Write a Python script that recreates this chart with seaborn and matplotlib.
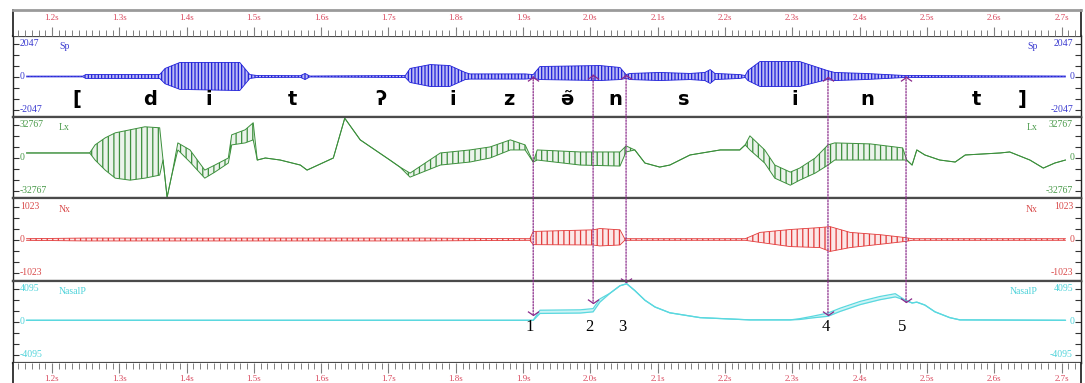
import matplotlib
matplotlib.use("Agg")
import matplotlib.pyplot as plt
from matplotlib.patches import ConnectionPatch
from matplotlib.path import Path
from matplotlib.colors import to_rgba
import seaborn as sns

# ---------------- data ----------------
ruler_ticks = [1.2, 1.3, 1.4, 1.5, 1.6, 1.7, 1.8, 1.9, 2.0, 2.1, 2.2, 2.3, 2.4, 2.5, 2.6, 2.7]
ruler_labels = ["1.2s", "1.3s", "1.4s", "1.5s", "1.6s", "1.7s", "1.8s", "1.9s",
                "2.0s", "2.1s", "2.2s", "2.3s", "2.4s", "2.5s", "2.6s", "2.7s"]

channel_names = ["Sp", "Lx", "Nx", "NasalP"]
channel_max = [2047, 32767, 1023, 4095]

# Speech envelope (time s, upper, lower)
sp_t = [1.162, 1.246, 1.250, 1.360, 1.368, 1.390, 1.479, 1.494, 1.505, 1.569, 1.576, 1.583,
        1.725, 1.732, 1.762, 1.791, 1.814, 1.821, 1.903, 1.915, 1.925, 2.014, 2.044, 2.053,
        2.059, 2.103, 2.148, 2.170, 2.178, 2.185, 2.222, 2.230, 2.234, 2.252, 2.311, 2.352,
        2.363, 2.408, 2.468, 2.706]
sp_hi = [25, 25, 120, 120, 500, 870, 870, 120, 60, 50, 190, 30,
         60, 500, 740, 680, 250, 160, 160, 120, 620, 680, 560, 120,
         190, 250, 190, 250, 430, 190, 120, 60, 370, 930, 930, 370,
         250, 190, 60, 30]
sp_lo = [-25, -25, -120, -120, -450, -800, -870, -120, -60, -50, -190, -30,
         -60, -370, -620, -620, -190, -160, -160, -120, -190, -250, -190, -120,
         -190, -250, -190, -250, -430, -190, -120, -60, -250, -620, -620, -190,
         -250, -190, -60, -30]

# Laryngograph (Lx)
lx_t = [1.162, 1.256, 1.264, 1.279, 1.294, 1.316, 1.338, 1.360, 1.365, 1.371, 1.378, 1.387,
        1.405, 1.427, 1.442, 1.462, 1.467, 1.487, 1.499, 1.505, 1.517, 1.539, 1.569, 1.579,
        1.618, 1.635, 1.658, 1.680, 1.702, 1.717, 1.732, 1.777, 1.821, 1.851, 1.881, 1.903,
        1.915, 1.921, 1.985, 2.044, 2.053, 2.066, 2.081, 2.103, 2.118, 2.148, 2.193, 2.222,
        2.230, 2.237, 2.259, 2.274, 2.297, 2.311, 2.334, 2.353, 2.363, 2.416, 2.464, 2.470,
        2.478, 2.485, 2.497, 2.519, 2.542, 2.557, 2.609, 2.623, 2.653, 2.673, 2.690, 2.706]
lx_hi = [4500, 4500, 12500, 19500, 24500, 27500, 30500, 29500, -2500, -39500, -17500, 14500,
         7500, -12500, -7500, -500, 22500, 27500, 34500, -2500, -500, -2500, -7500, -12500,
         -500, 39000, 17500, 7500, -2500, -9500, -15500, 4500, 7500, 10500, 17500, 12500,
         -4500, 7500, 5500, 5500, 11500, 7500, -5500, -9500, -7500, 2500, 7500, 7500,
         12500, 21500, 7500, -7500, -14500, -10500, -500, 12500, 14500, 13500, 9500, -2500,
         -7500, 7500, 2500, -2500, -4500, 2500, 4500, 5500, -2500, -10500, -5500, -2500]
lx_lo = [4500, 4500, -2500, -12500, -20500, -22500, -20500, -17500, -2500, -39500, -17500, 7500,
         -4500, -20500, -14500, -5500, 12500, 14500, 17500, -2500, -500, -2500, -7500, -12500,
         -500, 39000, 17500, 7500, -2500, -9500, -19500, -7500, -4500, -500, 7500, 7500,
         -4500, -2500, -7500, -8500, 5500, 7500, -5500, -9500, -7500, 2500, 7500, 7500,
         12500, 7500, -5500, -20500, -27500, -22500, -15500, -7500, -2500, -2500, -2500, -2500,
         -7500, 7500, 2500, -2500, -4500, 2500, 4500, 5500, -2500, -10500, -5500, -2500]

# Nasal accelerometer (Nx)
nx_t = [1.162, 1.250, 1.750, 1.910, 1.915, 2.004, 2.014, 2.044, 2.051, 2.230, 2.252, 2.297,
        2.341, 2.356, 2.386, 2.430, 2.468, 2.478, 2.706]
nx_hi = [25, 45, 45, 25, 250, 300, 340, 300, 25, 25, 220, 310,
         370, 400, 220, 150, 60, 25, 25]
nx_lo = [-25, -45, -45, -25, -160, -170, -200, -170, -25, -25, -90, -220,
         -250, -370, -250, -150, -60, -25, -25]

# Nasal airflow pressure (NasalP)
np_t = [1.162, 1.915, 1.925, 1.985, 2.004, 2.014, 2.029, 2.044, 2.054, 2.066, 2.081, 2.096,
        2.118, 2.163, 2.237, 2.297, 2.311, 2.330, 2.353, 2.371, 2.401, 2.430, 2.453, 2.468,
        2.478, 2.485, 2.497, 2.512, 2.534, 2.549, 2.706]
np_hi = [150, 150, 1400, 1450, 1600, 2800, 3500, 4440, 4680, 3840, 2640, 1800,
         1080, 480, 200, 200, 350, 650, 1050, 1650, 2500, 3100, 3450, 2640,
         2300, 2400, 2040, 1200, 480, 200, 150]
np_lo = [150, 150, 1000, 1050, 1200, 2400, 3500, 4440, 4680, 3840, 2640, 1800,
         1080, 480, 200, 200, 250, 450, 650, 1250, 2100, 2700, 3050, 2640,
         2300, 2400, 2040, 1200, 480, 200, 150]

# phonetic transcription
phones = ["[", "d", "i", "t", "ʔ", "i", "z", "ə̃", "n", "s", "i", "n", "t", "]"]
phone_t = [1.237, 1.346, 1.433, 1.558, 1.689, 1.796, 1.879, 1.965, 2.037, 2.138,
           2.304, 2.412, 2.574, 2.641]

# numbered arrows
arrow_labels = ["1", "2", "3", "4", "5"]
arrow_t = [1.915, 2.004, 2.053, 2.353, 2.469]
arrow_top = [0, 100, 100, -60, 0]            # Sp value at the upper head
arrow_bottom = [840, 2280, 4850, 840, 2400]  # NasalP value at the lower head
arrow_label_t = [1.910, 1.998, 2.048, 2.350, 2.463]

# ---------------- styling / layout ----------------
W, H = 1085, 383
PX0, PX1 = 13, 1081
T0 = 1.2 + (PX0 - 52) / 673.0
T1 = 1.2 + (PX1 - 52) / 673.0

sns.set_theme(style="white")
plt.rcParams['font.family'] = ['Liberation Serif', 'DejaVu Serif']
plt.rcParams['hatch.linewidth'] = 0.9

fig = plt.figure(figsize=(W / 100, H / 100), dpi=100)
fig.patch.set_facecolor("white")


def rect(x0, y0, x1, y1):
    return [x0 / W, 1 - y1 / H, (x1 - x0) / W, (y1 - y0) / H]


def xf(px):
    return (px - PX0) / (PX1 - PX0)


ruler_col = "#d9475c"
line_cols = ["#1f1fd8", "#3c8f3c", "#e23a3a", "#5ad8df"]
label_cols = ["#3b3bd0", "#4a9a4a", "#d94a4a", "#4fd3da"]
hatches = ["|||||", "|||", "|||", None]
face_alpha = [0.3, 0.1, 0.12, 0.3]
edge_lw = [0.6, 0.7, 0.6, 0.9]
panels = [(36, 117, 76.5), (117, 198, 157.5), (198, 281, 239.5), (281, 363, 321.5)]
series = [(sp_t, sp_hi, sp_lo), (lx_t, lx_hi, lx_lo), (nx_t, nx_hi, nx_lo), (np_t, np_hi, np_lo)]

axes = []
for i, (name, mx) in enumerate(zip(channel_names, channel_max)):
    top, bot, zero = panels[i]
    ax = fig.add_axes(rect(PX0, top, PX1, bot))
    ax.set_xlim(T0, T1)
    scale = mx / 33.0
    ax.set_ylim(-(bot - zero) * scale, (zero - top) * scale)
    t, hi, lo = series[i]
    col = line_cols[i]
    ax.fill_between(t, lo, hi, facecolor=to_rgba(col, face_alpha[i]),
                    edgecolor=col, hatch=hatches[i], linewidth=0)
    sns.lineplot(x=t, y=hi, ax=ax, color=col, linewidth=edge_lw[i], estimator=None, sort=False)
    sns.lineplot(x=t, y=lo, ax=ax, color=col, linewidth=edge_lw[i], estimator=None, sort=False)
    ax.set_xticks([])
    ax.set_yticks([-mx, -2 * mx / 3, -mx / 3, 0, mx / 3, 2 * mx / 3, mx])
    ax.set_yticklabels([])
    ax.tick_params(axis="y", which="both", direction="in", length=4, width=0.8,
                   color="#333333", left=True, right=True)
    ax.set_xlabel("")
    ax.set_ylabel("")
    for s in ("left", "right"):
        ax.spines[s].set_color("#222222")
        ax.spines[s].set_linewidth(1.0)
    for s in ("top", "bottom"):
        ax.spines[s].set_color("#4a4a4a")
        ax.spines[s].set_linewidth(1.6)
    lc = label_cols[i]
    tr = ax.get_yaxis_transform()
    fs = 7
    ax.text(xf(20), mx, str(mx), transform=tr, ha="left", va="center", color=lc, fontsize=fs)
    ax.text(xf(20), 0, "0", transform=tr, ha="left", va="center", color=lc, fontsize=fs)
    ax.text(xf(20), -mx, "-" + str(mx), transform=tr, ha="left", va="center", color=lc, fontsize=fs)
    ax.text(xf(1073), mx, str(mx), transform=tr, ha="right", va="center", color=lc, fontsize=fs)
    ax.text(xf(1075), 0, "0", transform=tr, ha="right", va="center", color=lc, fontsize=fs)
    ax.text(xf(1073), -mx, "-" + str(mx), transform=tr, ha="right", va="center", color=lc, fontsize=fs)
    ax.text(xf(59), mx * 0.92, name, transform=tr, ha="left", va="center", color=lc, fontsize=fs)
    ax.text(xf(1038), mx * 0.92, name, transform=tr, ha="right", va="center", color=lc, fontsize=fs)
    axes.append(ax)

ax_sp, ax_lx, ax_nx, ax_np = axes

# phonetic labels
for ph, t in zip(phones, phone_t):
    ax_sp.text(t, -1450, ph, ha="center", va="center", fontsize=14, fontweight="bold",
               color="black", family=["DejaVu Sans"])

# arrows
purple = "#8a2a8a"
up = Path([(-1, -0.7), (0, 0), (1, -0.7)], [Path.MOVETO, Path.LINETO, Path.LINETO])
down = Path([(-1, 0.7), (0, 0), (1, 0.7)], [Path.MOVETO, Path.LINETO, Path.LINETO])
for lab, t, ytop, ybot, tl in zip(arrow_labels, arrow_t, arrow_top, arrow_bottom, arrow_label_t):
    cp = ConnectionPatch(xyA=(t, ytop), coordsA=ax_sp.transData,
                         xyB=(t, ybot), coordsB=ax_np.transData,
                         color=purple, linestyle=(0, (1.2, 1.2)), linewidth=0.9)
    fig.add_artist(cp)
    ax_sp.plot([t], [ytop], marker=up, markersize=8, color=purple, fillstyle="none",
               markeredgewidth=0.9, clip_on=False)
    ax_np.plot([t], [ybot], marker=down, markersize=8, color=purple, fillstyle="none",
               markeredgewidth=0.9, clip_on=False)
    ax_np.text(tl, -700, lab, ha="center", va="center", fontsize=12, color="black")

# rulers
minor = [round(1.15 + 0.01 * k, 2) for k in range(0, 158)]
for which, (y0, y1) in (("top", (10, 36)), ("bottom", (363, 383))):
    ax = fig.add_axes(rect(PX0, y0, PX1, y1))
    ax.set_xlim(T0, T1)
    ax.set_ylim(0, 1)
    ax.set_yticks([])
    ax.set_xticks(ruler_ticks)
    ax.set_xticks([m for m in minor if T0 < m < T1], minor=True)
    ax.set_xticklabels([])
    ax.spines["left"].set_color("#222222")
    ax.spines["right"].set_color("#222222")
    if which == "top":
        ax.spines["top"].set_color("#9a9a9a")
        ax.spines["top"].set_linewidth(2.0)
        ax.spines["bottom"].set_visible(False)
        ax.tick_params(axis="x", which="major", direction="in", length=6.5, width=0.8,
                       color="#808080", bottom=True, top=False)
        ax.tick_params(axis="x", which="minor", direction="in", length=4, width=0.7,
                       color="#808080", bottom=True, top=False)
        ly = 0.68
    else:
        ax.spines["bottom"].set_visible(False)
        ax.spines["top"].set_visible(False)
        ax.tick_params(axis="x", which="major", direction="in", length=7, width=0.8,
                       color="#808080", bottom=False, top=True)
        ax.tick_params(axis="x", which="minor", direction="in", length=4, width=0.7,
                       color="#808080", bottom=False, top=True)
        ly = 0.18
    for t, lab in zip(ruler_ticks, ruler_labels):
        ax.text(t, ly, lab, ha="center", va="center", color=ruler_col, fontsize=6.5)

fig.savefig("out.png", dpi=100, facecolor="white")
